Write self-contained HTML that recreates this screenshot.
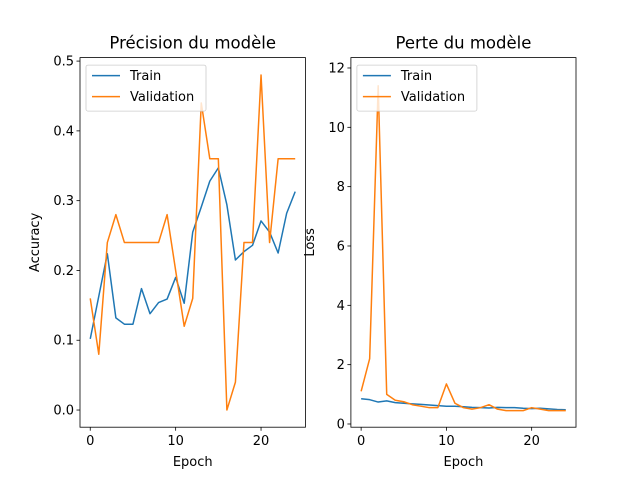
<!DOCTYPE html>
<html><head><meta charset="utf-8"><style>body{margin:0;background:#fff}svg{display:block;font-family:"DejaVu Sans","Liberation Sans",sans-serif}</style></head>
<body>
<svg id="c" width="640" height="480" xmlns="http://www.w3.org/2000/svg"></svg>
<script>
const epochs = [0,1,2,3,4,5,6,7,8,9,10,11,12,13,14,15,16,17,18,19,20,21,22,23,24];
const trainAcc = [0.102,0.163,0.224,0.132,0.123,0.123,0.174,0.138,0.154,0.159,0.190,0.153,0.255,0.291,0.328,0.347,0.294,0.215,0.227,0.236,0.271,0.255,0.225,0.282,0.313];
const valAcc = [0.16,0.08,0.24,0.28,0.24,0.24,0.24,0.24,0.24,0.28,0.2,0.12,0.16,0.44,0.36,0.36,0.0,0.04,0.24,0.24,0.48,0.24,0.36,0.36,0.36];
const trainLoss = [0.85,0.82,0.74,0.78,0.72,0.70,0.68,0.66,0.64,0.62,0.60,0.60,0.58,0.56,0.55,0.54,0.56,0.55,0.55,0.53,0.52,0.53,0.51,0.49,0.48];
const valLoss = [1.1,2.2,11.4,1.0,0.8,0.75,0.65,0.6,0.55,0.55,1.35,0.7,0.55,0.5,0.55,0.65,0.5,0.45,0.45,0.45,0.55,0.5,0.45,0.45,0.45];
const xTicks = [0,10,20];
const accTicks = [0.0,0.1,0.2,0.3,0.4,0.5];
const lossTicks = [0,2,4,6,8,10,12];

const svg = document.getElementById('c');
const NS = 'http://www.w3.org/2000/svg';
function mk(tag, attrs, parent){const e=document.createElementNS(NS,tag);for(const k in attrs)e.setAttribute(k,attrs[k]);(parent||svg).appendChild(e);return e;}

function panel(x0,x1,y0,y1,ymin,ymax,yTicks,fmt,tr,va,title,ylabel,key,ylabX){
  const g = mk('g',{});
  
  
  const X = v => x0 + (v-(-1.2))/(26.4)*(x1-x0);
  const Y = v => y1 - (v-ymin)/(ymax-ymin)*(y1-y0);
  const cp = mk('clipPath',{id:'cp'+key},g);
  mk('rect',{x:x0,y:y0,width:x1-x0,height:y1-y0},cp);
  const lg = mk('g',{'clip-path':'url(#cp'+key+')'},g);
  [[tr,'#1f77b4',key+'-train-line'],[va,'#ff7f0e',key+'-validation-line']].forEach(([d,c,n])=>{
    const p = mk('polyline',{points:d.map((v,i)=>X(epochs[i])+','+Y(v)).join(' '),fill:'none',stroke:c,'stroke-width':1.5,'stroke-linejoin':'round'},lg);
    
    
  });
  mk('rect',{x:x0,y:y0,width:x1-x0,height:y1-y0,fill:'none',stroke:'#000','stroke-width':0.8},g);
  xTicks.forEach(t=>{
    mk('line',{x1:X(t),x2:X(t),y1:y1,y2:y1+3.5,stroke:'#000','stroke-width':0.8},g);
    const tx = mk('text',{x:X(t),y:y1+18,'font-size':13,'text-anchor':'middle'},g); tx.textContent=t;
    
    
  });
  yTicks.forEach(t=>{
    mk('line',{x1:x0-3.5,x2:x0,y1:Y(t),y2:Y(t),stroke:'#000','stroke-width':0.8},g);
    const tx = mk('text',{x:x0-6,y:Y(t)+4.5,'font-size':13,'text-anchor':'end'},g); tx.textContent=fmt(t);
    
    
  });
  const tt = mk('text',{x:(x0+x1)/2,y:y0-9,'font-size':16.5,'text-anchor':'middle'},g); tt.textContent=title;
  
  
  const xl = mk('text',{x:(x0+x1)/2,y:y1+39,'font-size':13,'text-anchor':'middle'},g); xl.textContent='Epoch';
  
  
  const yl = mk('text',{x:ylabX,y:(y0+y1)/2,'font-size':13,'text-anchor':'middle',transform:'rotate(-90 '+ylabX+' '+(y0+y1)/2+')'},g); yl.textContent=ylabel;
  
  
  const L = mk('g',{},g);
  
  
  mk('rect',{x:x0+6,y:y0+7.5,width:120,height:46,rx:2,fill:'#fff','fill-opacity':0.8,stroke:'#ccc','stroke-width':0.8},L);
  [['Train','#1f77b4'],['Validation','#ff7f0e']].forEach(([n,c],i)=>{
    const yy=y0+18+i*21;
    mk('line',{x1:x0+12,x2:x0+40,y1:yy,y2:yy,stroke:c,'stroke-width':1.5},L);
    const t=mk('text',{x:x0+50,y:yy+4.5,'font-size':13},L); t.textContent=n;
    
    
  });
}
panel(80,305.45,57.6,427.2,-0.0246,0.505,accTicks,v=>v.toFixed(1),trainAcc,valAcc,'Précision du modèle','Accuracy','acc',39);
panel(350.9,576,57.6,427.2,-0.108,12.35,lossTicks,v=>String(v),trainLoss,valLoss,'Perte du modèle','Loss','loss',314);
</script>
</body></html>
